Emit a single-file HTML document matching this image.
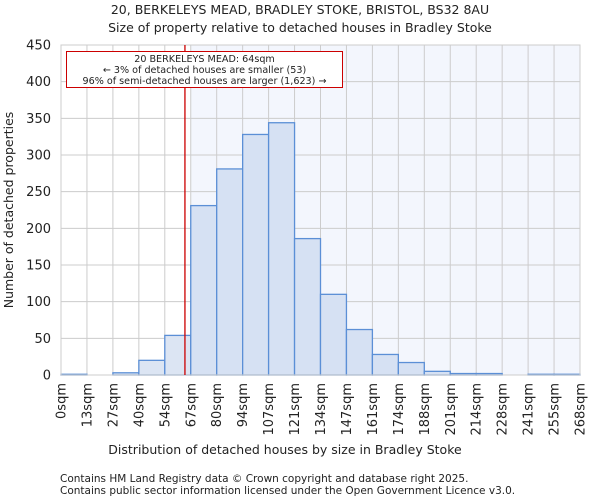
<!DOCTYPE html>
<html><head><meta charset="utf-8"><style>
body{margin:0;background:#fff;font-family:"DejaVu Sans","Liberation Sans",sans-serif}
svg text{font-family:"DejaVu Sans","Liberation Sans",sans-serif;fill:#222}
</style></head><body>
<svg id="c" width="600" height="500" xmlns="http://www.w3.org/2000/svg">
<text x="300" y="14" font-size="12.5" text-anchor="middle">20, BERKELEYS MEAD, BRADLEY STOKE, BRISTOL, BS32 8AU</text>
<text x="300" y="32" font-size="12.5" text-anchor="middle">Size of property relative to detached houses in Bradley Stoke</text>
<g id="plot"></g>
<text x="285" y="454" font-size="12.5" text-anchor="middle">Distribution of detached houses by size in Bradley Stoke</text>
<text transform="translate(13,210) rotate(-90)" font-size="12.5" text-anchor="middle" fill="#444">Number of detached properties</text>
<text x="60" y="482" font-size="10.5" fill="#444">Contains HM Land Registry data © Crown copyright and database right 2025.</text>
<text x="60" y="494" font-size="10.5" fill="#444">Contains public sector information licensed under the Open Government Licence v3.0.</text>
</svg>
<script>
const categories=["0sqm","13sqm","27sqm","40sqm","54sqm","67sqm","80sqm","94sqm","107sqm","121sqm","134sqm","147sqm","161sqm","174sqm","188sqm","201sqm","214sqm","228sqm","241sqm","255sqm","268sqm"];
const counts=[1,0,3,20,54,231,281,328,344,186,110,62,28,17,5,2,2,0,1,1];
const yTicks=[0,50,100,150,200,250,300,350,400,450];
const binWidth=13.4;
const propertySize=64;
const X0=61,X1=580,Y0=375,Y1=45,YMAX=450;
const nb=counts.length;
const xs=i=>X0+(X1-X0)*i/nb;
const xv=v=>X0+(X1-X0)*v/(binWidth*nb);
const ys=v=>Y0-(Y0-Y1)*v/YMAX;
const NS="http://www.w3.org/2000/svg";
const g=document.getElementById('plot');
function mk(t,a,p){const e=document.createElementNS(NS,t);for(const k in a)e.setAttribute(k,a[k]);(p||g).appendChild(e);return e;}
const hb=mk('rect',{x:xs(5),y:Y1,width:X1-xs(5),height:Y0-Y1,fill:'#f3f6fd'});


yTicks.forEach(t=>{
 const l=mk('line',{x1:X0,x2:X1,y1:ys(t),y2:ys(t),stroke:'#ccc','stroke-width':1});
 
 
 const tx=mk('text',{x:X0-10,y:ys(t)+4.5,'font-size':'13','text-anchor':'end'});
 tx.textContent=t;
 
 
});
categories.forEach((c,i)=>{
 const l=mk('line',{x1:xs(i),x2:xs(i),y1:Y1,y2:Y0,stroke:'#ccc','stroke-width':1});
 
 
 const tx=mk('text',{transform:`translate(${xs(i)+4.5},${Y0+8}) rotate(-90)`,'font-size':'13','text-anchor':'end'});
 tx.textContent=c;
 
 
});
counts.forEach((v,i)=>{
 const r=mk('rect',{x:xs(i),y:ys(v),width:xs(i+1)-xs(i),height:Y0-ys(v),fill:i>=5?'#d6e1f3':'#dce5f3',stroke:'#5b8fd6','stroke-width':1.3});
 
 
});
const ax=mk('rect',{x:X0,y:Y1,width:X1-X0,height:Y0-Y1,fill:'none',stroke:'#ccc'});


const pl=mk('line',{x1:xv(propertySize),x2:xv(propertySize),y1:Y1,y2:Y0,stroke:'#cc0000','stroke-width':1.3});


const box=mk('rect',{x:66.5,y:51.5,width:276,height:36,fill:'#fff',stroke:'#cc0000','stroke-width':1});


["20 BERKELEYS MEAD: 64sqm","← 3% of detached houses are smaller (53)","96% of semi-detached houses are larger (1,623) →"].forEach((s,i)=>{
 const t=mk('text',{x:204.5,y:62+i*11,'font-size':'9.6','text-anchor':'middle'});
 t.textContent=s;
 
 
});
</script>
</body></html>
